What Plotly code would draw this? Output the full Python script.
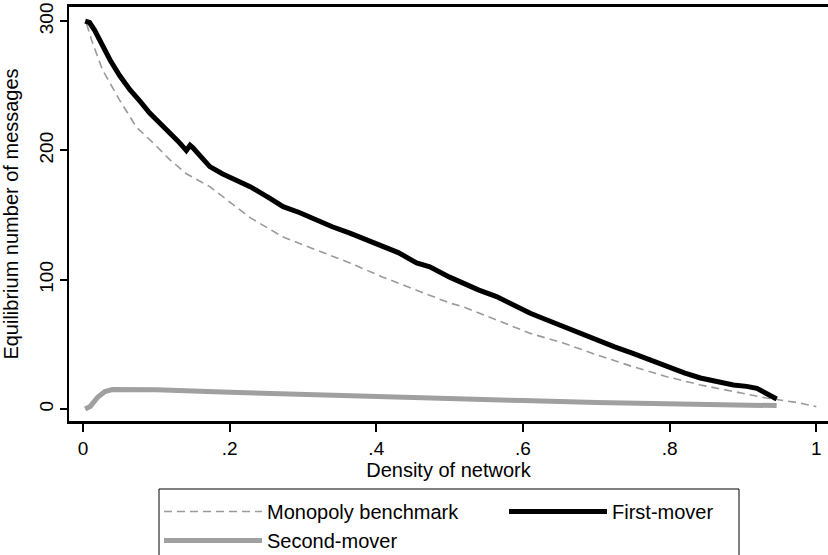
import plotly.graph_objects as go

# ---- data ----
first_x = [0.003, 0.009, 0.016, 0.025, 0.037, 0.05, 0.064, 0.078, 0.091, 0.105, 0.119, 0.13, 0.141, 0.146, 0.150, 0.16, 0.173, 0.19, 0.21,
           0.228, 0.255, 0.273, 0.295, 0.319, 0.34, 0.364, 0.385, 0.409, 0.43, 0.455, 0.473, 0.5, 0.519,
           0.54, 0.564, 0.587, 0.61, 0.632, 0.655, 0.678, 0.701, 0.725, 0.75, 0.773, 0.796, 0.82, 0.842,
           0.865, 0.887, 0.905, 0.919, 0.932, 0.946]
first_y = [300, 299, 293, 283, 270, 258, 247, 238, 229, 221, 213.5, 207, 200, 204, 202, 196, 187.5, 182, 177,
           172, 163, 156.5, 152, 146, 141, 136, 131, 125.5, 121, 113, 110, 102, 97,
           92, 87, 80, 74, 69, 63.7, 58, 53, 48, 43, 38, 32.7, 28, 24,
           21, 18.6, 17.5, 16, 12, 7.7]

mono_x = [0.005, 0.012, 0.027, 0.05, 0.073, 0.096, 0.119, 0.141, 0.173, 0.205, 0.228, 0.273, 0.319, 0.364,
          0.409, 0.455, 0.473, 0.5, 0.519, 0.564, 0.61, 0.655, 0.701, 0.75, 0.796, 0.842, 0.887, 0.932,
          0.978, 1.0]
mono_y = [298, 285, 262, 239, 218, 205.7, 192.6, 182, 172, 158, 148, 133, 123, 113,
          102, 92, 88, 82, 79, 69, 58.5, 51, 41.8, 32.7, 25, 18.6, 13.4, 8.5,
          4.6, 1.8]

second_x = [0.003, 0.01, 0.02, 0.03, 0.04, 0.1, 0.2, 0.3, 0.4, 0.5, 0.6, 0.7, 0.8, 0.9, 0.946]
second_y = [0, 2, 9, 13.5, 15, 14.8, 13, 11.2, 9.5, 8, 6.5, 5, 3.8, 3, 2.6]

x_tickvals = [0, 0.2, 0.4, 0.6, 0.8, 1]
x_ticktext = ["0", ".2", ".4", ".6", ".8", "1"]
y_tickvals = [0, 100, 200, 300]
y_ticktext = ["0", "100", "200", "300"]

FONT = "Liberation Sans, Arial, sans-serif"

fig = go.Figure()
fig.add_trace(go.Scatter(x=mono_x, y=mono_y, mode="lines", name="Monopoly benchmark",
                         line=dict(color="#9a9a9a", width=1.6, dash="8px,5px")))
fig.add_trace(go.Scatter(x=first_x, y=first_y, mode="lines", name="First-mover",
                         line=dict(color="black", width=5)))
fig.add_trace(go.Scatter(x=second_x, y=second_y, mode="lines", name="Second-mover",
                         line=dict(color="#a0a0a0", width=5)))

fig.update_layout(
    width=828, height=555,
    margin=dict(l=69, r=0, t=7, b=134),
    paper_bgcolor="white", plot_bgcolor="white",
    font=dict(family=FONT, size=20, color="black"),
    showlegend=True,
    legend=dict(orientation="h", x=159 / 828, xanchor="left", xref="container",
                y=1 - 492 / 555, yanchor="top", yref="container",
                borderwidth=0, bgcolor="rgba(0,0,0,0)",
                entrywidth=232, entrywidthmode="pixels", itemwidth=98,
                font=dict(family=FONT, size=20), tracegroupgap=0),
    shapes=[dict(type="rect", xref="paper", yref="paper",
                 x0=(159 - 69) / 759, x1=(739 - 69) / 759,
                 y0=(421 - 560) / 414, y1=(421 - 489) / 414,
                 line=dict(color="black", width=1), fillcolor="rgba(0,0,0,0)")],
)
fig.update_xaxes(range=[-0.019, 1.016], tickvals=x_tickvals, ticktext=x_ticktext,
                 showgrid=False, zeroline=False, showline=True, linecolor="black", linewidth=2.5,
                 mirror=True, ticks="outside", ticklen=8, tickwidth=1.5, tickcolor="black",
                 tickfont=dict(size=19), title=dict(text="Density of network", standoff=2,
                                                     font=dict(size=20)))
fig.update_yaxes(range=[-9.3, 311], tickvals=y_tickvals, ticktext=y_ticktext,
                 showgrid=False, zeroline=False, showline=True, linecolor="black", linewidth=1.5,
                 ticks="outside", ticklen=7, tickwidth=1.5, tickcolor="black",
                 tickangle=-90, tickfont=dict(size=19),
                 title=dict(text="Equilibrium number of messages", standoff=13, font=dict(size=20)))

fig.write_html("out.html")
